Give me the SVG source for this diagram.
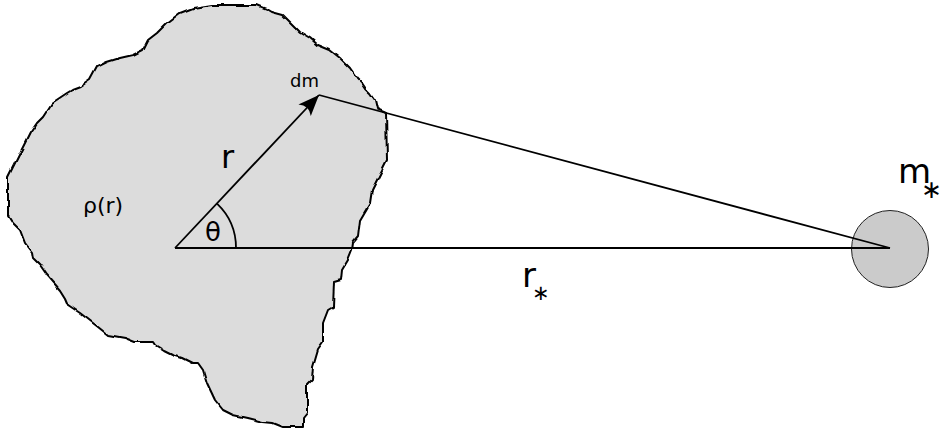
<svg xmlns="http://www.w3.org/2000/svg" width="950" height="432" viewBox="0 0 950 432">
<style>
text{font-family:"DejaVu Sans","Liberation Sans",sans-serif;fill:#000}
.ln{stroke:#000;stroke-width:1.8;fill:none}
</style>
<defs>
<marker id="ah" viewBox="-22 -10 24 20" markerWidth="24" markerHeight="20" refX="0" refY="0" orient="auto" markerUnits="userSpaceOnUse">
<path d="M0,0 L-21,-8.5 Q-14,0 -21,8.5 Z" fill="#000"/>
</marker>
<filter id="rough" x="-5%" y="-5%" width="110%" height="110%">
<feTurbulence type="fractalNoise" baseFrequency="0.07" numOctaves="2" seed="5" result="n"/>
<feDisplacementMap in="SourceGraphic" in2="n" scale="4" xChannelSelector="R" yChannelSelector="G"/>
</filter>
</defs>
<rect width="950" height="432" fill="#fff"/>
<g id="body">
<path filter="url(#rough)" d="M212,5 L257,5 L262,7 L267,9 L272,12 L283,15 L290,22 L300,32 L310,38 L318,45 L330,50 L340,58 L350,68 L357,78 L362,83 L366,89 L370,93 L375,100 L377,109 L386,113 L387,160 L382,170 L372,190 L370,203 L360,220 L358,237 L353,243 L352,250 L348,260 L342,270 L341,280 L334,282 L333,307 L328,310 L323,323 L323,343 L318,350 L313,367 L312,380 L307,385 L307,413 L303,418 L303,427 L283,427 L273,423 L263,422 L247,418 L233,415 L223,410 L215,400 L207,383 L203,370 L198,363 L192,363 L182,358 L173,355 L163,350 L155,345 L153,342 L135,342 L125,338 L108,335 L98,327 L80,313 L68,305 L65,298 L60,290 L47,275 L40,265 L33,258 L32,252 L25,243 L20,230 L13,223 L8,215 L8,177 L13,167 L20,153 L23,147 L30,133 L37,123 L43,117 L52,103 L67,93 L72,90 L80,87 L90,80 L97,67 L107,62 L120,58 L133,55 L143,50 L148,40 L157,33 L167,23 L180,13 L193,8 Z" fill="#dcdcdc" stroke="#000" stroke-width="2" stroke-linejoin="round"/>
<text x="83" y="213" font-size="22">ρ(r)</text>
</g>
<g id="star">
<circle cx="890" cy="249" r="38.5" fill="#cbcbcb" stroke="#222" stroke-width="1"/>
<text x="898" y="183" font-size="34">m<tspan dx="-10" dy="15" font-size="25">∗</tspan></text>
</g>
<g id="connectors">
<line class="ln" x1="175" y1="248" x2="890" y2="248"/>
<line class="ln" x1="319" y1="95" x2="890" y2="248"/>
<line class="ln" x1="175" y1="248" x2="319" y2="95" marker-end="url(#ah)"/>
<path class="ln" d="M236,248 A61,61 0 0 0 217,203.6"/>
</g>
<g id="labels">
<text x="290" y="87" font-size="18">dm</text>
<text x="221" y="168" font-size="32">r</text>
<text x="205" y="241" font-size="26">θ</text>
<text x="522" y="287" font-size="34">r<tspan dx="-4" dy="13" font-size="21">∗</tspan></text>
</g>
</svg>
